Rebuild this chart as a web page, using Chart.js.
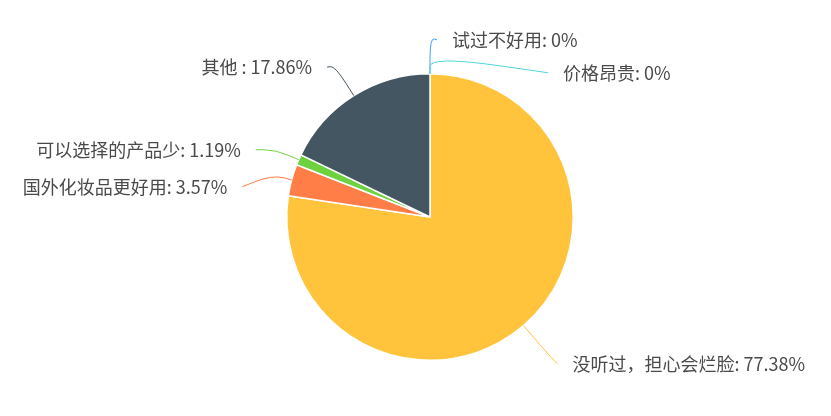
<!DOCTYPE html>
<html>
<head>
<meta charset="utf-8">
<script src="https://cdn.jsdelivr.net/npm/chart.js@4.4.1/dist/chart.umd.min.js"></script>
<style>
  html, body { margin: 0; background: #fff; }
  #wrap { width: 831px; height: 416px; }
</style>
</head>
<body>
<div id="wrap"><canvas id="pie"></canvas></div>
<script>
// data (percent of answers)
const labels = ["没听过，担心会烂脸", "国外化妆品更好用", "可以选择的产品少", "其他 ", "试过不好用", "价格昂贵"];
const values = [77.38, 3.57, 1.19, 17.86, 0, 0];
const colors = ["#FFC33C", "#FF7D46", "#6ED240", "#445661", "#3DA1F5", "#50D4DD"];

// leader line layout per slice: first length, second length, vertical shift of the label
const labelLayout = [
  { len1: 40, len2: 8, dy: 8 },
  { len1: 20, len2: 30, dy: 12 },
  { len1: 25, len2: 20, dy: 0 },
  { len1: 35, len2: 8, dy: 1 },
  { len1: 36, len2: 7, dy: 2 },
  { len1: 18, len2: 118, dy: 17 }
];

const outsideLabels = {
  id: "outsideLabels",
  afterDatasetsDraw(chart) {
    const ctx = chart.ctx;
    const meta = chart.getDatasetMeta(0);
    ctx.save();
    ctx.font = '18px "Noto Sans CJK SC", "Noto Sans", sans-serif';
    ctx.textBaseline = "middle";
    meta.data.forEach((arc, i) => {
      const p = arc.getProps(["x", "y", "startAngle", "endAngle", "outerRadius"], true);
      const mid = (p.startAngle + p.endAngle) / 2;
      const dx = Math.cos(mid), dy = Math.sin(mid);
      const right = dx > -1e-6;
      const lay = labelLayout[i];
      const p0 = { x: p.x + p.outerRadius * dx, y: p.y + p.outerRadius * dy };
      const p1 = { x: p.x + (p.outerRadius + lay.len1) * dx, y: p.y + (p.outerRadius + lay.len1) * dy };
      const p2 = { x: p1.x + (right ? lay.len2 : -lay.len2), y: p1.y + lay.dy };

      // smoothed polyline
      const s = 0.6;
      const a = { x: p1.x + (p0.x - p1.x) * s, y: p1.y + (p0.y - p1.y) * s };
      const b = { x: p1.x + (p2.x - p1.x) * s, y: p1.y + (p2.y - p1.y) * s };
      ctx.beginPath();
      ctx.moveTo(p0.x, p0.y);
      ctx.lineTo(a.x, a.y);
      ctx.quadraticCurveTo(p1.x, p1.y, b.x, b.y);
      ctx.lineTo(p2.x, p2.y);
      ctx.strokeStyle = colors[i];
      ctx.lineWidth = 1;
      ctx.stroke();

      const v = values[i];
      const text = labels[i] + ": " + (v === 0 ? "0" : v.toFixed(2)) + "%";
      ctx.fillStyle = "#4a4a4a";
      ctx.textAlign = right ? "left" : "right";
      ctx.fillText(text, p2.x + (right ? 15 : -15), p2.y);
    });
    ctx.restore();
  }
};

new Chart(document.getElementById("pie"), {
  type: "pie",
  data: {
    labels: labels,
    datasets: [
      {
        data: values,
        backgroundColor: colors,
        borderColor: "#fff",
        borderWidth: 1.5
      }
    ]
  },
  options: {
    responsive: true,
    maintainAspectRatio: false,
    animation: false,
    events: [],
    layout: { padding: { top: 73, bottom: 55, left: 286, right: 257 } },
    plugins: {
      legend: { display: false },
      tooltip: { enabled: false }
    }
  },
  plugins: [outsideLabels]
});
</script>
</body>
</html>
